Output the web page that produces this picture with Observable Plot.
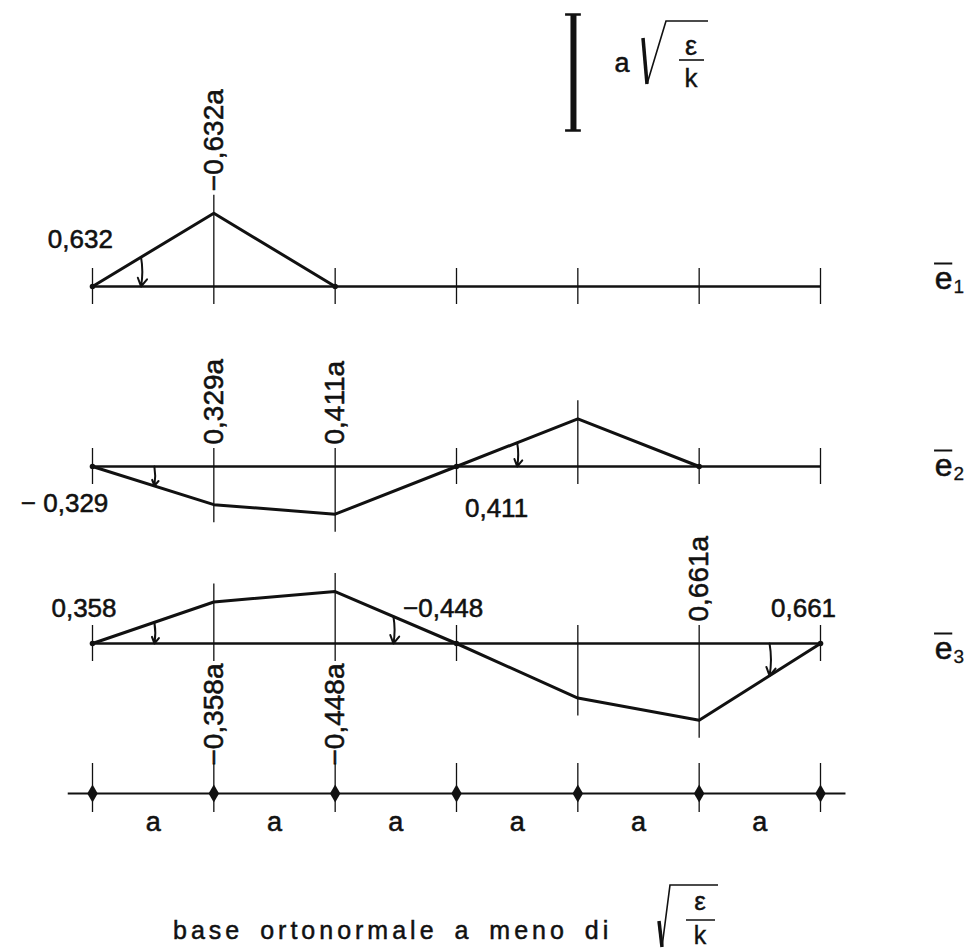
<!DOCTYPE html>
<html>
<head>
<meta charset="utf-8">
<script src="https://cdn.jsdelivr.net/npm/d3@7"></script>
<script src="https://cdn.jsdelivr.net/npm/@observablehq/plot@0.6"></script>
<style>
  html, body { margin: 0; padding: 0; background: #fff; }
  #fig { position: relative; width: 969px; height: 952px; background: #fff; }
  #chart svg { display: block; }
  #unit { position: absolute; left: 0; top: 0; }
  #caption { display: block; }
</style>
</head>
<body>
<div id="fig">
  <div id="chart"></div>
  <!-- caption below the chart: base ortonormale a meno di √(ε/k) -->
  <svg id="caption" width="969" height="92" viewBox="0 860 969 92">
    <g fill="#111" stroke="#111" font-family="'Liberation Sans', Arial, sans-serif">
      <text x="173" y="939" font-size="25" letter-spacing="4" word-spacing="6" stroke-width="0.5">base ortonormale a meno di</text>
      <path d="M659,921 L662,947" stroke-width="3.5" fill="none"/>
      <path d="M662,947 L670,885 L718,885" stroke-width="1.6" fill="none"/>
      <text x="700" y="910" font-size="26" text-anchor="middle" stroke-width="0.4">ε</text>
      <line x1="686" x2="715" y1="920" y2="920" stroke-width="1.5"/>
      <text x="700" y="944" font-size="25" text-anchor="middle" stroke-width="0.4">k</text>
    </g>
  </svg>
  <!-- unit of the scale bar: a √(ε/k) -->
  <svg id="unit" width="969" height="100">
    <g fill="#111" stroke="#111" font-family="'Liberation Sans', Arial, sans-serif">
      <text x="622" y="72" font-size="27" text-anchor="middle" stroke-width="0.5">a</text>
      <path d="M643,38 L647,84" stroke-width="3.5" fill="none"/>
      <path d="M647,84 L666,21 L708,21" stroke-width="1.6" fill="none"/>
      <text x="691" y="55" font-size="27" text-anchor="middle" stroke-width="0.4">ε</text>
      <line x1="679" x2="704" y1="60" y2="60" stroke-width="1.6"/>
      <text x="691" y="87" font-size="26" text-anchor="middle" stroke-width="0.4">k</text>
    </g>
  </svg>
</div>
<script>
// Nodal displacements of the three basis vectors, in units of a·√(ε/k)
// (positive = downward, as in the sign convention of the labels)
const nodes = [0, 1, 2, 3, 4, 5, 6];
const e1 = [0, -0.632, 0, 0, 0, 0, 0];
const e2 = [0, 0.329, 0.411, 0, -0.411, 0, 0];
const e3 = [0, -0.358, -0.448, 0, 0.47, 0.661, 0];
const modeSubscripts = ["1", "2", "3"];

// Displacement labels written at the nodes
const dispLabelText = ["−0,632a", "0,329a", "0,411a", "0,661a", "−0,358a", "−0,448a"];
const dispLabelMode = [0, 1, 1, 2, 2, 2];
const dispLabelNode = [1, 1, 2, 5, 1, 2];

// Rotation (slope) labels of the bars
const slopeLabelText = ["0,632", "− 0,329", "0,411", "0,358", "−0,448", "0,661"];
const slopeLabelMode = [0, 1, 1, 2, 2, 2];

// Bay lengths along the bottom axis
const spanLabels = ["a", "a", "a", "a", "a", "a"];

// Length of the scale bar: one unit a·√(ε/k)
const unitBar = 1;

// ---------- layout ----------
const W = 969, H = 860;
const U = 116;                       // pixels per unit of displacement
const px = p => p / U;               // pixel offset -> y units
const ink = "#111";
const rowBase = [286, 466, 643].map(px);
const axisBase = px(793);
const modes = [e1, e2, e3];
const dispLabelSide = ["above", "above", "above", "above", "below", "below"];
const slopeLabelX = [-0.1, -0.23, 3.33, -0.07, 2.89, 5.86];
const slopeLabelDy = [-47, 37, 42, -35, -35, -35];
const rotMarkMode = [0, 1, 1, 2, 2, 2];
const rotMarkX = [0.4, 0.51, 3.5, 0.51, 2.48, 5.58];
const eLabelDy = [-8, -1, 5];
const tickExt = px(18);
const barX = 3.964, barTop = px(14);
const textWeight = {stroke: ink, strokeWidth: 0.55};

// polyline of each mode runs up to the node after its last non-zero value
const lastNode = vals => {
  let k = 0;
  vals.forEach((v, i) => { if (v !== 0) k = i; });
  return Math.min(k + 1, vals.length - 1);
};
const linePts = modes.flatMap((vals, m) =>
  nodes.slice(0, lastNode(vals) + 1).map(n => ({mode: m, x: n, y: rowBase[m] + vals[n]})));
const zeroPts = linePts.filter(d => modes[d.mode][d.x] === 0);

const nodeTicks = modes.flatMap((vals, m) => nodes.map(n => ({
  x: n,
  y1: rowBase[m] + Math.min(0, vals[n]) - tickExt,
  y2: rowBase[m] + Math.max(0, vals[n]) + tickExt
})));

const valueAt = (vals, x) => {
  const i = Math.min(Math.floor(x), vals.length - 2);
  return vals[i] + (vals[i + 1] - vals[i]) * (x - i);
};
const rotMarks = rotMarkX.map((x, k) => {
  const m = rotMarkMode[k];
  const yl = rowBase[m] + valueAt(modes[m], x);
  return {x, y1: Math.min(rowBase[m], yl), y2: Math.max(rowBase[m], yl)};
});

const dispLabels = dispLabelText.map((text, k) => {
  const m = dispLabelMode[k], n = dispLabelNode[k], v = modes[m][n];
  const above = dispLabelSide[k] === "above";
  return {
    text, x: n, above,
    y: above ? rowBase[m] + Math.min(0, v) - px(22) : rowBase[m] + Math.max(0, v) + px(20)
  };
});

const slopeLabels = slopeLabelText.map((text, k) => ({
  text, x: slopeLabelX[k], y: rowBase[slopeLabelMode[k]] + px(slopeLabelDy[k])
}));

const eLabels = modeSubscripts.map((s, m) => ({s, y: rowBase[m] + px(eLabelDy[m])}));

const chart = Plot.plot({
  width: W,
  height: H,
  marginTop: 0, marginRight: 0, marginBottom: 0, marginLeft: 0,
  x: {domain: [0, 6], range: [92, 820], axis: null},
  y: {domain: [0, H / U], range: [0, H], axis: null},
  style: {fontFamily: "'Liberation Sans', Arial, sans-serif", color: ink, background: "#fff"},
  marks: [
    // scale bar
    Plot.ruleX([barX], {y1: barTop, y2: barTop + unitBar, stroke: ink, strokeWidth: 6}),
    Plot.ruleY([barTop, barTop + unitBar], {x1: barX - 0.065, x2: barX + 0.065, stroke: ink, strokeWidth: 2.5}),

    // node verticals and baselines
    Plot.ruleX(nodeTicks, {x: "x", y1: "y1", y2: "y2", stroke: ink, strokeWidth: 1.3}),
    Plot.ruleY(rowBase, {x1: 0, x2: 6, stroke: ink, strokeWidth: 2.4}),

    // deformed shapes
    Plot.line(linePts, {x: "x", y: "y", z: "mode", stroke: ink, strokeWidth: 3, strokeLinejoin: "round"}),
    Plot.dot(zeroPts, {x: "x", y: "y", r: 2.8, fill: ink}),

    // rotation arrows
    Plot.arrow(rotMarks, {x1: "x", x2: "x", y1: "y1", y2: "y2", bend: 10, headLength: 7, stroke: ink, strokeWidth: 2}),

    // labels
    Plot.text(dispLabels.filter(d => d.above), {x: "x", y: "y", text: "text", rotate: -90, textAnchor: "start", fontSize: 28, fill: ink, ...textWeight}),
    Plot.text(dispLabels.filter(d => !d.above), {x: "x", y: "y", text: "text", rotate: -90, textAnchor: "end", fontSize: 28, fill: ink, ...textWeight}),
    Plot.text(slopeLabels, {x: "x", y: "y", text: "text", fontSize: 26, fill: ink, ...textWeight}),

    // basis vector names ē1, ē2, ē3
    Plot.text(eLabels, {x: 7.014, y: "y", text: () => "e", fontSize: 32, fill: ink, ...textWeight}),
    Plot.text(eLabels, {x: 7.14, y: d => d.y + px(8), text: "s", fontSize: 19, fill: ink, stroke: ink, strokeWidth: 0.3}),
    Plot.ruleY(eLabels, {y: d => d.y - px(15), x1: 6.94, x2: 7.09, stroke: ink, strokeWidth: 2}),

    // bottom axis with the bays
    Plot.ruleY([axisBase], {x1: -0.2, x2: 6.21, stroke: ink, strokeWidth: 2.2}),
    Plot.ruleX(nodes, {x: d => d, y1: axisBase - px(30), y2: axisBase + px(19), stroke: ink, strokeWidth: 1.3}),
    Plot.dot(nodes, {x: d => d, y: axisBase, symbol: "diamond", r: 5.5, fill: ink}),
    Plot.text(spanLabels, {x: (d, i) => i + 0.5, y: axisBase + px(29), text: d => d, fontSize: 27, fill: ink, ...textWeight})
  ]
});

document.getElementById("chart").appendChild(chart);
</script>
</body>
</html>
